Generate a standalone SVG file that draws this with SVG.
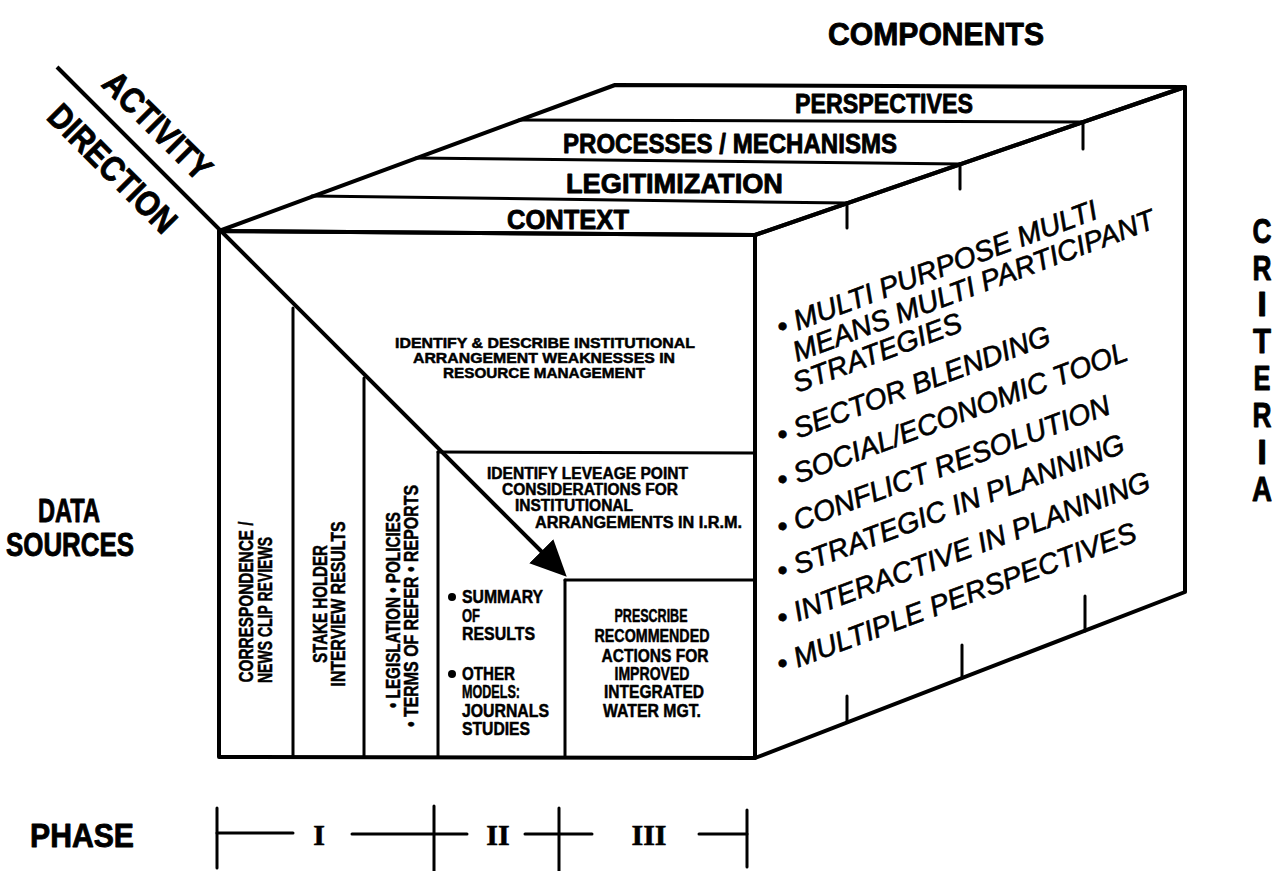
<svg xmlns="http://www.w3.org/2000/svg" width="1288" height="871" viewBox="0 0 1288 871">
<defs>
<style>
.ln{stroke:#000;stroke-width:4;fill:none;stroke-linecap:round;stroke-linejoin:round}
.th{stroke:#000;stroke-width:3;fill:none;stroke-linecap:round}
.cb{font-family:"Liberation Sans Narrow","Liberation Sans",Arial,sans-serif;font-weight:bold;fill:#000;stroke:#000;stroke-width:0.9;stroke-linejoin:round}
.cs{font-family:"Liberation Sans Narrow","Liberation Sans",Arial,sans-serif;font-weight:bold;fill:#000;stroke:#000;stroke-width:0.5;stroke-linejoin:round}
.rf{font-family:"Liberation Sans",Arial,sans-serif;font-style:italic;font-size:28.5px;fill:#000;stroke:#000;stroke-width:0.6}
.rm{font-family:"Liberation Serif","Times New Roman",serif;font-weight:bold;font-size:30px;fill:#000;stroke:#000;stroke-width:0.6}
</style>
<marker id="ah" markerUnits="userSpaceOnUse" viewBox="0 -17 36 34" markerWidth="36" markerHeight="34" refX="1" refY="0" orient="auto">
<path d="M0,-17 L36,0 L0,17 z" fill="#000"/>
</marker>
</defs>
<rect width="1288" height="871" fill="#fff"/>

<g id="cube">
<polygon class="ln" points="219,231 755,235 755,758 219,757"/>
<polygon class="ln" points="219,231 615,85 1185,87 755,235"/>
<polygon class="ln" points="755,235 1185,87 1185,592 755,758"/>
</g>

<g id="components">
<text class="cb" x="828" y="45" font-size="32" textLength="216" lengthAdjust="spacingAndGlyphs">COMPONENTS</text>
<line class="th" x1="312" y1="196" x2="847" y2="203"/>
<line class="th" x1="416" y1="158" x2="960" y2="164"/>
<line class="th" x1="519" y1="120" x2="1083" y2="122"/>
<text class="cb" x="795" y="113" font-size="28" textLength="178" lengthAdjust="spacingAndGlyphs">PERSPECTIVES</text>
<text class="cb" x="563" y="153" font-size="28" textLength="334" lengthAdjust="spacingAndGlyphs">PROCESSES / MECHANISMS</text>
<text class="cb" x="566" y="193" font-size="28" textLength="217" lengthAdjust="spacingAndGlyphs">LEGITIMIZATION</text>
<text class="cb" x="507" y="229" font-size="28" textLength="122" lengthAdjust="spacingAndGlyphs">CONTEXT</text>
</g>

<g id="criteria-ticks">
<line class="th" x1="847" y1="203" x2="847" y2="228"/>
<line class="th" x1="960" y1="164" x2="960" y2="189"/>
<line class="th" x1="1083" y1="122" x2="1083" y2="149"/>
<line class="th" x1="847" y1="722" x2="847" y2="696"/>
<line class="th" x1="962" y1="678" x2="962" y2="645"/>
<line class="th" x1="1085" y1="631" x2="1085" y2="596"/>
</g>

<g id="criteria">
<text class="cb" font-size="35" text-anchor="middle" x="1262" y="243" textLength="19" lengthAdjust="spacingAndGlyphs">C</text>
<text class="cb" font-size="35" text-anchor="middle" x="1262" y="280" textLength="19" lengthAdjust="spacingAndGlyphs">R</text>
<text class="cb" font-size="35" text-anchor="middle" x="1262" y="316">I</text>
<text class="cb" font-size="35" text-anchor="middle" x="1262" y="353" textLength="18" lengthAdjust="spacingAndGlyphs">T</text>
<text class="cb" font-size="35" text-anchor="middle" x="1262" y="390" textLength="17" lengthAdjust="spacingAndGlyphs">E</text>
<text class="cb" font-size="35" text-anchor="middle" x="1262" y="427" textLength="19" lengthAdjust="spacingAndGlyphs">R</text>
<text class="cb" font-size="35" text-anchor="middle" x="1262" y="464">I</text>
<text class="cb" font-size="35" text-anchor="middle" x="1262" y="501" textLength="20" lengthAdjust="spacingAndGlyphs">A</text>
</g>

<g id="criteria-list">
<text class="rf" transform="translate(781,337) rotate(-20.5)">• MULTI PURPOSE MULTI</text>
<text class="rf" transform="translate(797,362) rotate(-20.5)">MEANS MULTI PARTICIPANT</text>
<text class="rf" transform="translate(797,393) rotate(-20.5)">STRATEGIES</text>
<text class="rf" transform="translate(781,445) rotate(-20.5)">• SECTOR BLENDING</text>
<text class="rf" transform="translate(781,490) rotate(-20.5)">• SOCIAL/ECONOMIC TOOL</text>
<text class="rf" transform="translate(781,537) rotate(-20.5)">• CONFLICT RESOLUTION</text>
<text class="rf" transform="translate(781,581) rotate(-20.5)">• STRATEGIC IN PLANNING</text>
<text class="rf" transform="translate(781,628) rotate(-20.5)">• INTERACTIVE IN PLANNING</text>
<text class="rf" transform="translate(781,674) rotate(-20.5)">• MULTIPLE PERSPECTIVES</text>
</g>

<g id="activity-direction">
<text class="cb" font-size="35" text-anchor="middle" textLength="138" lengthAdjust="spacingAndGlyphs" transform="translate(149,134) rotate(45)">ACTIVITY</text>
<text class="cb" font-size="35" text-anchor="middle" textLength="166" lengthAdjust="spacingAndGlyphs" transform="translate(104,177) rotate(45)">DIRECTION</text>
</g>

<g id="data-sources">
<text class="cb" font-size="33" text-anchor="middle" x="69" y="522" textLength="62" lengthAdjust="spacingAndGlyphs">DATA</text>
<text class="cb" font-size="33" text-anchor="middle" x="70" y="556" textLength="128" lengthAdjust="spacingAndGlyphs">SOURCES</text>
</g>

<g id="col-correspondence">
<line class="th" x1="293" y1="308" x2="293" y2="757"/>
<text class="cs" font-size="20" text-anchor="middle" textLength="161" lengthAdjust="spacingAndGlyphs" transform="translate(253,602) rotate(-90)">CORRESPONDENCE /</text>
<text class="cs" font-size="20" text-anchor="middle" textLength="146" lengthAdjust="spacingAndGlyphs" transform="translate(272,610) rotate(-90)">NEWS CLIP REVIEWS</text>
</g>

<g id="col-stakeholder">
<line class="th" x1="364" y1="378" x2="364" y2="757"/>
<text class="cs" font-size="20" text-anchor="middle" textLength="118" lengthAdjust="spacingAndGlyphs" transform="translate(327,604) rotate(-90)">STAKE HOLDER</text>
<text class="cs" font-size="20" text-anchor="middle" textLength="165" lengthAdjust="spacingAndGlyphs" transform="translate(345,604) rotate(-90)">INTERVIEW RESULTS</text>
</g>

<g id="col-legislation">
<line class="th" x1="438" y1="452" x2="438" y2="757"/>
<text class="cs" font-size="20" text-anchor="middle" textLength="196" lengthAdjust="spacingAndGlyphs" transform="translate(400,610) rotate(-90)">• LEGISLATION • POLICIES</text>
<text class="cs" font-size="20" text-anchor="middle" textLength="242" lengthAdjust="spacingAndGlyphs" transform="translate(418,606) rotate(-90)">• TERMS OF REFER • REPORTS</text>
</g>

<g id="identify-describe">
<text class="cs" font-size="15" text-anchor="middle" x="545" y="348" textLength="300" lengthAdjust="spacingAndGlyphs">IDENTIFY &amp; DESCRIBE INSTITUTIONAL</text>
<text class="cs" font-size="15" text-anchor="middle" x="544" y="363" textLength="262" lengthAdjust="spacingAndGlyphs">ARRANGEMENT  WEAKNESSES IN</text>
<text class="cs" font-size="15" text-anchor="middle" x="544" y="378" textLength="202" lengthAdjust="spacingAndGlyphs">RESOURCE MANAGEMENT</text>
</g>

<g id="identify-leverage">
<line class="th" x1="438" y1="452" x2="755" y2="453"/>
<text class="cs" font-size="16" x="487" y="479" textLength="201" lengthAdjust="spacingAndGlyphs">IDENTIFY LEVEAGE POINT</text>
<text class="cs" font-size="16" x="502" y="495" textLength="176" lengthAdjust="spacingAndGlyphs">CONSIDERATIONS FOR</text>
<text class="cs" font-size="16" x="515" y="511" textLength="118" lengthAdjust="spacingAndGlyphs">INSTITUTIONAL</text>
<text class="cs" font-size="16" x="535" y="528" textLength="207" lengthAdjust="spacingAndGlyphs">ARRANGEMENTS IN I.R.M.</text>
</g>

<g id="summary">
<circle cx="452" cy="597" r="4"/>
<text class="cs" font-size="18" x="462" y="603" textLength="81" lengthAdjust="spacingAndGlyphs">SUMMARY</text>
<text class="cs" font-size="18" x="462" y="622" textLength="18" lengthAdjust="spacingAndGlyphs">OF</text>
<text class="cs" font-size="18" x="462" y="640" textLength="73" lengthAdjust="spacingAndGlyphs">RESULTS</text>
<circle cx="452" cy="674" r="4"/>
<text class="cs" font-size="18" x="462" y="680" textLength="53" lengthAdjust="spacingAndGlyphs">OTHER</text>
<text class="cs" font-size="18" x="462" y="698" textLength="58" lengthAdjust="spacingAndGlyphs">MODELS:</text>
<text class="cs" font-size="18" x="462" y="717" textLength="87" lengthAdjust="spacingAndGlyphs">JOURNALS</text>
<text class="cs" font-size="18" x="462" y="735" textLength="68" lengthAdjust="spacingAndGlyphs">STUDIES</text>
</g>

<g id="prescribe">
<line class="th" x1="565" y1="580" x2="565" y2="757"/>
<line class="th" x1="565" y1="580" x2="755" y2="580"/>
<text class="cs" font-size="18" text-anchor="middle" x="651" y="622" textLength="73" lengthAdjust="spacingAndGlyphs">PRESCRIBE</text>
<text class="cs" font-size="18" text-anchor="middle" x="652" y="642" textLength="115" lengthAdjust="spacingAndGlyphs">RECOMMENDED</text>
<text class="cs" font-size="18" text-anchor="middle" x="655" y="662" textLength="107" lengthAdjust="spacingAndGlyphs">ACTIONS FOR</text>
<text class="cs" font-size="18" text-anchor="middle" x="652" y="680" textLength="75" lengthAdjust="spacingAndGlyphs">IMPROVED</text>
<text class="cs" font-size="18" text-anchor="middle" x="654" y="698" textLength="100" lengthAdjust="spacingAndGlyphs">INTEGRATED</text>
<text class="cs" font-size="18" text-anchor="middle" x="652" y="717" textLength="98" lengthAdjust="spacingAndGlyphs">WATER MGT.</text>
</g>

<g id="connectors">
<line x1="57" y1="67" x2="542" y2="552" stroke="#000" stroke-width="4" marker-end="url(#ah)"/>
</g>

<g id="phase">
<text class="cb" font-size="34" x="30" y="847" textLength="104" lengthAdjust="spacingAndGlyphs">PHASE</text>
<line class="th" x1="217" y1="808" x2="217" y2="868"/>
<line class="th" x1="217" y1="833" x2="293" y2="833"/>
<text class="rm" text-anchor="middle" x="319" y="845">I</text>
<line class="th" x1="352" y1="834" x2="467" y2="834"/>
<line class="th" x1="434" y1="806" x2="434" y2="871"/>
<text class="rm" text-anchor="middle" x="498" y="845">II</text>
<line class="th" x1="525" y1="834" x2="592" y2="834"/>
<line class="th" x1="559" y1="808" x2="559" y2="871"/>
<text class="rm" text-anchor="middle" x="649" y="845">III</text>
<line class="th" x1="699" y1="834" x2="747" y2="834"/>
<line class="th" x1="747" y1="810" x2="747" y2="867"/>
</g>
</svg>
